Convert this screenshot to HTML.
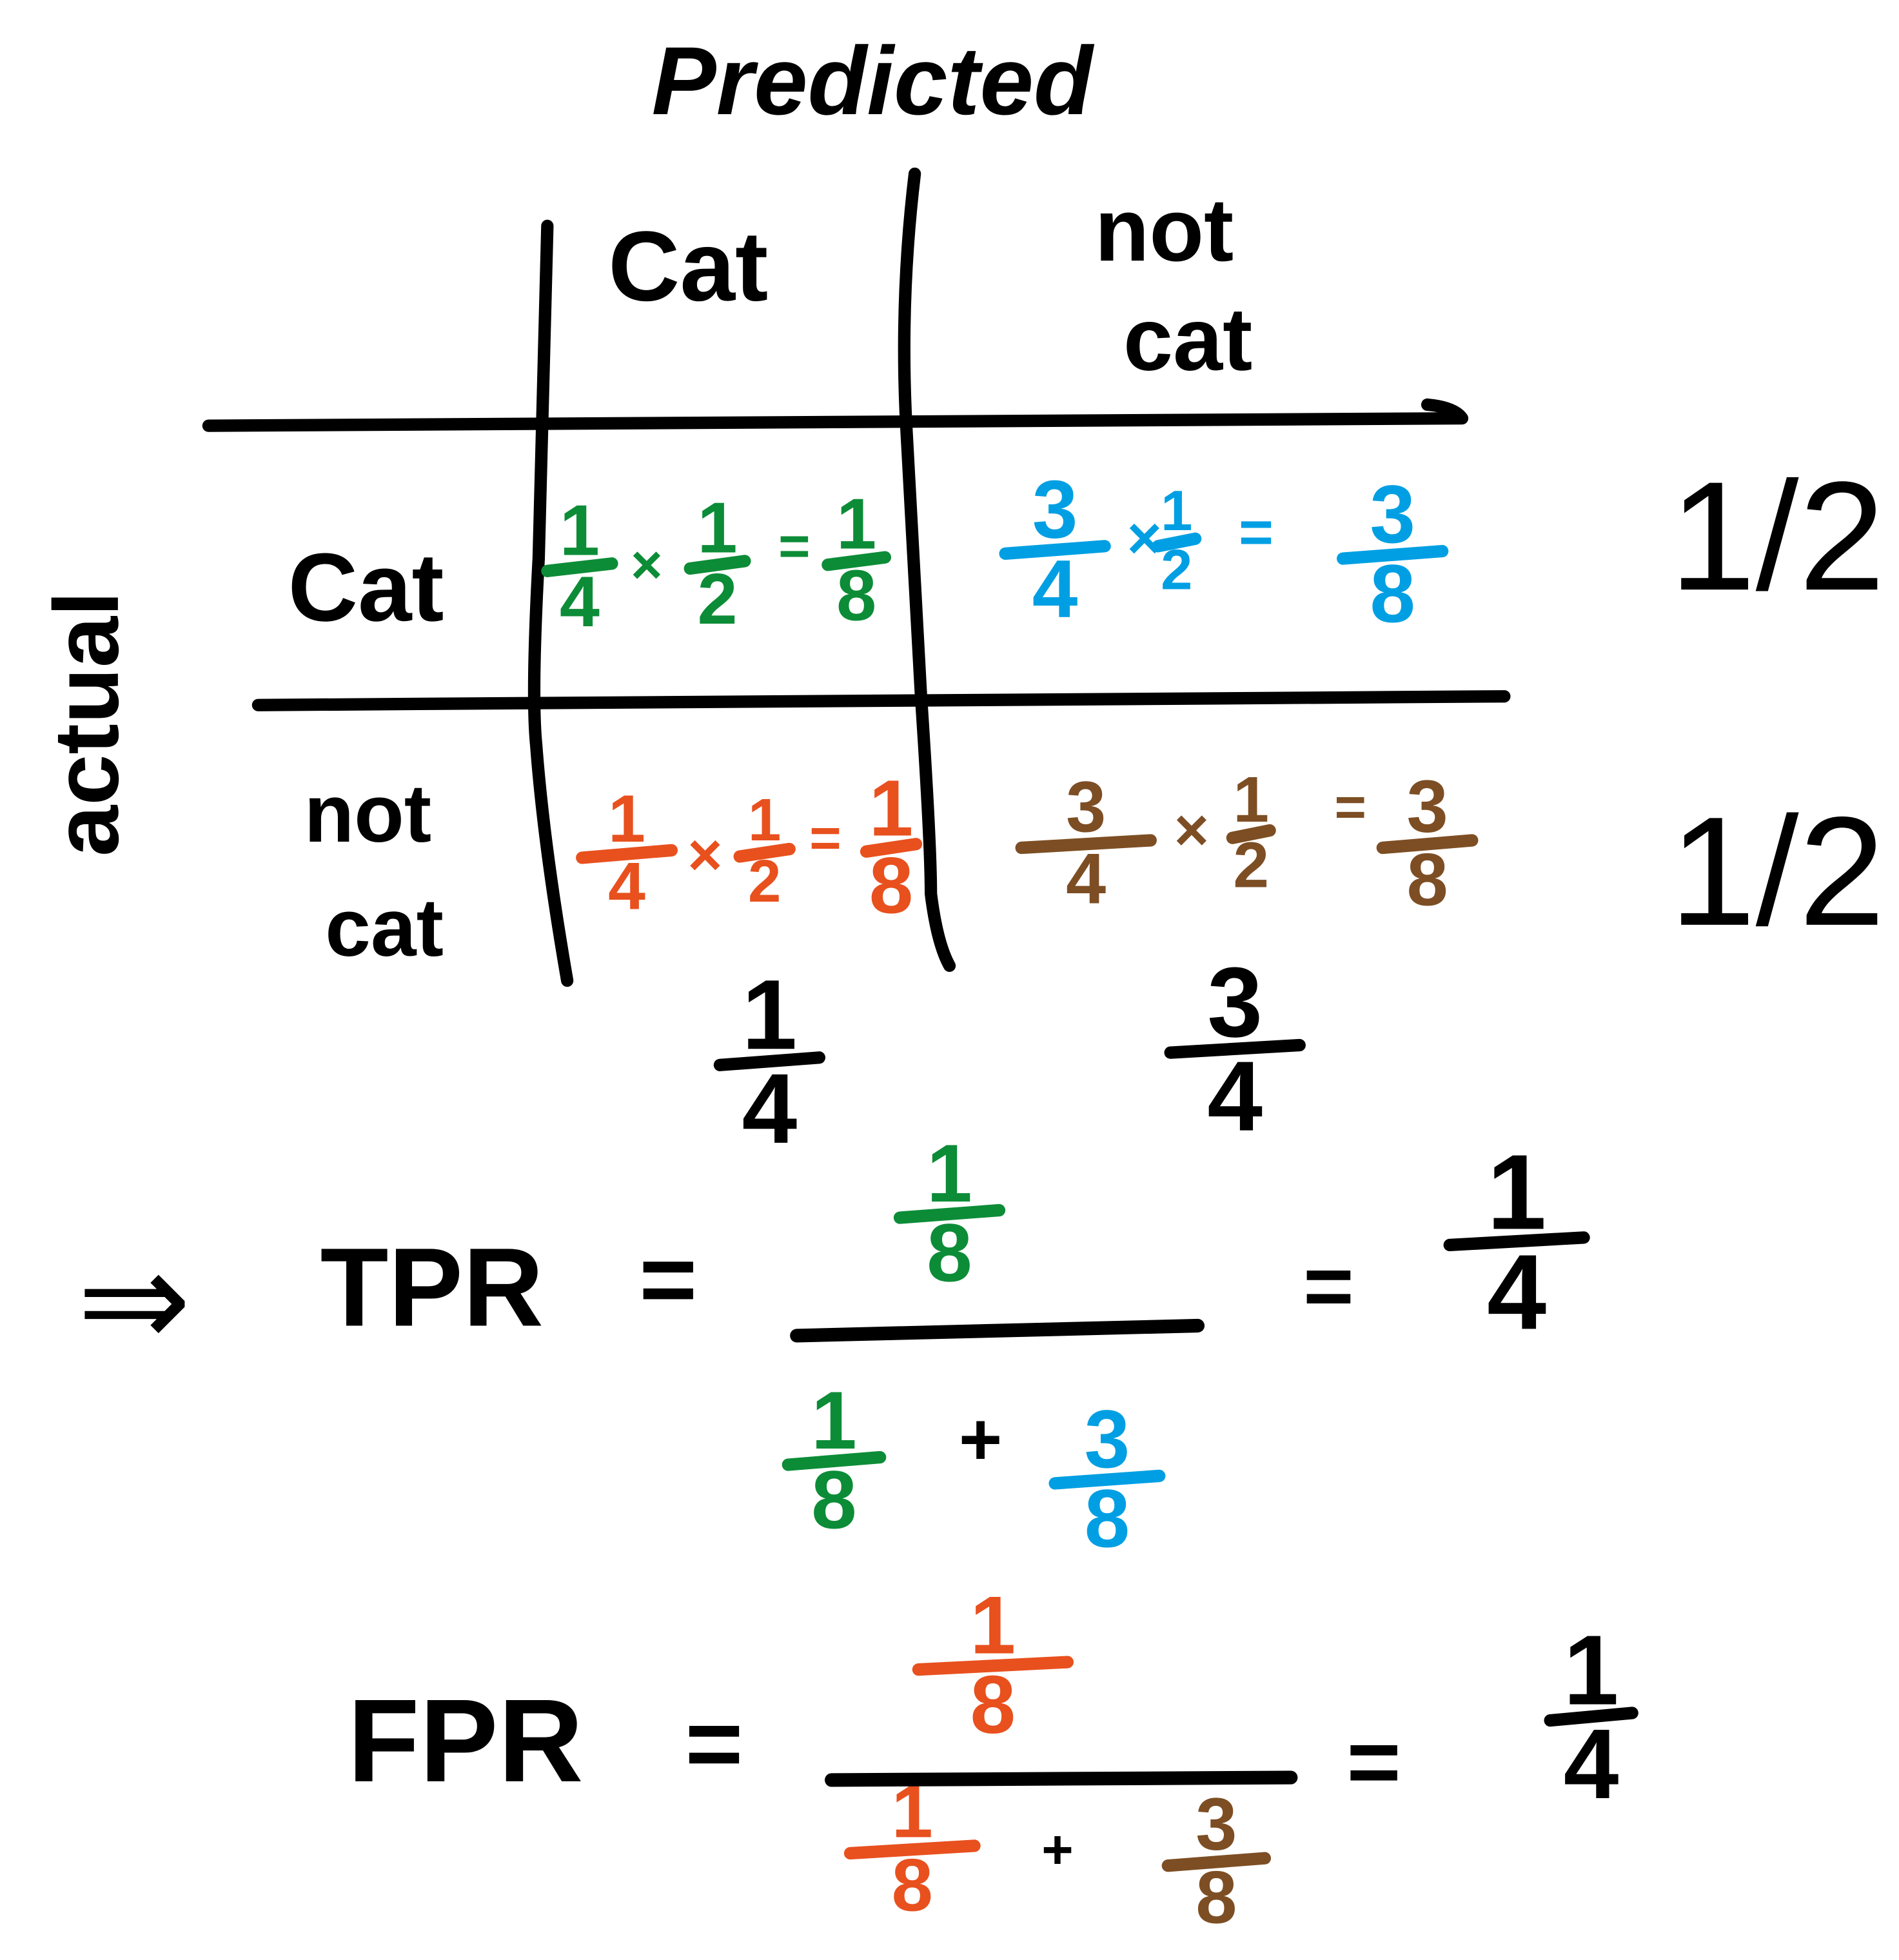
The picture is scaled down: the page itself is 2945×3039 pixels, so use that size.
<!DOCTYPE html>
<html><head><meta charset="utf-8"><style>
html,body{margin:0;padding:0;background:#fff}
svg{display:block}
text{font-family:"Liberation Sans",sans-serif;font-weight:bold}
</style></head><body>
<svg id="s" width="2945" height="3039" viewBox="0 0 1530 1579" preserveAspectRatio="none">
<g stroke="#000" stroke-width="10" stroke-linecap="round" fill="none">
<path d="M441 182 L434 450 Q428 560 432 600 Q438 680 457 790"/>
<path d="M737 140 Q725 240 730 340 L742 560 Q750 680 750 720 Q755 760 765 778"/>
<path d="M168 343 L1178 337 M1150 326 Q1172 328 1178 337"/>
<path d="M208 568 L1212 561"/>
</g>
<text x="525" y="92" font-size="78" font-style="italic">Predicted</text>
<text x="490" y="242" font-size="80">Cat</text>
<text x="882" y="210" font-size="72">not</text>
<text x="905" y="298" font-size="72">cat</text>
<text x="0" y="0" font-size="74" transform="translate(95,690) rotate(-90)">actual</text>
<text x="232" y="500" font-size="78">Cat</text>
<text x="245" y="678" font-size="66">not</text>
<text x="262" y="770" font-size="66">cat</text>
<g id="fr"></g>
<text x="62" y="1085" font-size="110" style="font-weight:normal">⇒</text>
<text x="258" y="1068" font-size="90">TPR</text>
<text x="515" y="1058" font-size="80">=</text>
<text x="1050" y="1060" font-size="70">=</text>
<text x="280" y="1435" font-size="95">FPR</text>
<text x="552" y="1432" font-size="80">=</text>
<text x="1085" y="1445" font-size="75">=</text>
</svg>
<script>
const G='#0c8c37',B='#009fe3',O='#e8501e',Br='#7d4e24',K='#000';
const fracNum=['1','1','1','3','1','3','1','1','1','3','1','3','1','3','1','1','1','1','1','3','1','1','3','1'];
const fracDen=['4','2','8','4','2','8','4','2','8','4','2','8','4','4','2','2','8','8','8','8','4','8','8','4'];
const fracCol=[G,G,G,B,B,B,O,O,O,Br,Br,Br,K,K,K,K,G,G,O,B,K,O,Br,K];
const fracNames=['tp-a','tp-b','tp-result','fn-a','fn-b','fn-result','fp-a','fp-b','fp-result','tn-a','tn-b','tn-result','col-total-cat','col-total-not','row-total-cat','row-total-not','tpr-num','tpr-den-a','fpr-num','tpr-den-b','tpr-result','fpr-den-a','fpr-den-b','fpr-result'];
const L=[[467,457,52,58],[578,455,44,58],[690,452,46,58],[850,443,80,66],[948,437,30,46],[1122,447,80,66],[505,688,72,54],[616,687,40,48],[718,683,40,64],[875,680,104,58],[1008,672,30,52],[1150,680,72,60],[620,855,80,80],[995,845,104,80],[1420,475,0,0],[1420,745,0,0],[765,978,80,66],[672,1177,74,66],[800,1342,120,66],[892,1192,84,66],[1222,1000,108,86],[735,1490,100,60],[980,1500,78,60],[1282,1383,66,80]];
const g=document.getElementById('fr'),ns='http://www.w3.org/2000/svg';
for(let i=0;i<fracNum.length;i++){
 const [cx,by,w,fs]=L[i];const c=fracCol[i];
 const grp=document.createElementNS(ns,'g');
 
 
 if(w===0){const t=document.createElementNS(ns,'text');t.setAttribute('x',cx-75);t.setAttribute('y',by);t.setAttribute('font-size',125);t.setAttribute('style','font-weight:normal');t.setAttribute('fill',c);t.textContent=fracNum[i]+'/'+fracDen[i];grp.appendChild(t);g.appendChild(grp);continue;}
 const n=document.createElementNS(ns,'text');n.setAttribute('x',cx);n.setAttribute('y',by-10);n.setAttribute('font-size',fs);n.setAttribute('text-anchor','middle');n.setAttribute('fill',c);n.textContent=fracNum[i];
 const l=document.createElementNS(ns,'line');l.setAttribute('x1',cx-w/2);l.setAttribute('x2',cx+w/2);l.setAttribute('y1',by+3);l.setAttribute('y2',by-3);l.setAttribute('stroke',c);l.setAttribute('stroke-width',10);l.setAttribute('stroke-linecap','round');
 const d=document.createElementNS(ns,'text');d.setAttribute('x',cx);d.setAttribute('y',by+fs*0.82);d.setAttribute('font-size',fs);d.setAttribute('text-anchor','middle');d.setAttribute('fill',c);d.textContent=fracDen[i];
 grp.appendChild(n);grp.appendChild(l);grp.appendChild(d);g.appendChild(grp);
}
const ops=[['×',521,470,G,44],['=',640,455,G,44],['×',922,450,B,48],['=',1012,445,B,48],['×',568,705,O,48],['=',665,690,O,44],['×',960,685,Br,48],['=',1088,665,Br,44],['+',790,1180,K,60],['+',852,1505,K,44]];
const opNames=['tp-times','tp-equals','fn-times','fn-equals','fp-times','fp-equals','tn-times','tn-equals','tpr-plus','fpr-plus'];
ops.forEach((o,i)=>{const t=document.createElementNS(ns,'text');t.setAttribute('x',o[1]);t.setAttribute('y',o[2]);t.setAttribute('font-size',o[4]);t.setAttribute('text-anchor','middle');t.setAttribute('fill',o[3]);t.textContent=o[0];


g.appendChild(t);});
[[642,1076,965,1068],[670,1434,1040,1432]].forEach((b,i)=>{const l=document.createElementNS(ns,'line');l.setAttribute('x1',b[0]);l.setAttribute('y1',b[1]);l.setAttribute('x2',b[2]);l.setAttribute('y2',b[3]);l.setAttribute('stroke','#000');l.setAttribute('stroke-width',11);l.setAttribute('stroke-linecap','round');


g.appendChild(l);});
</script>
</body></html>
